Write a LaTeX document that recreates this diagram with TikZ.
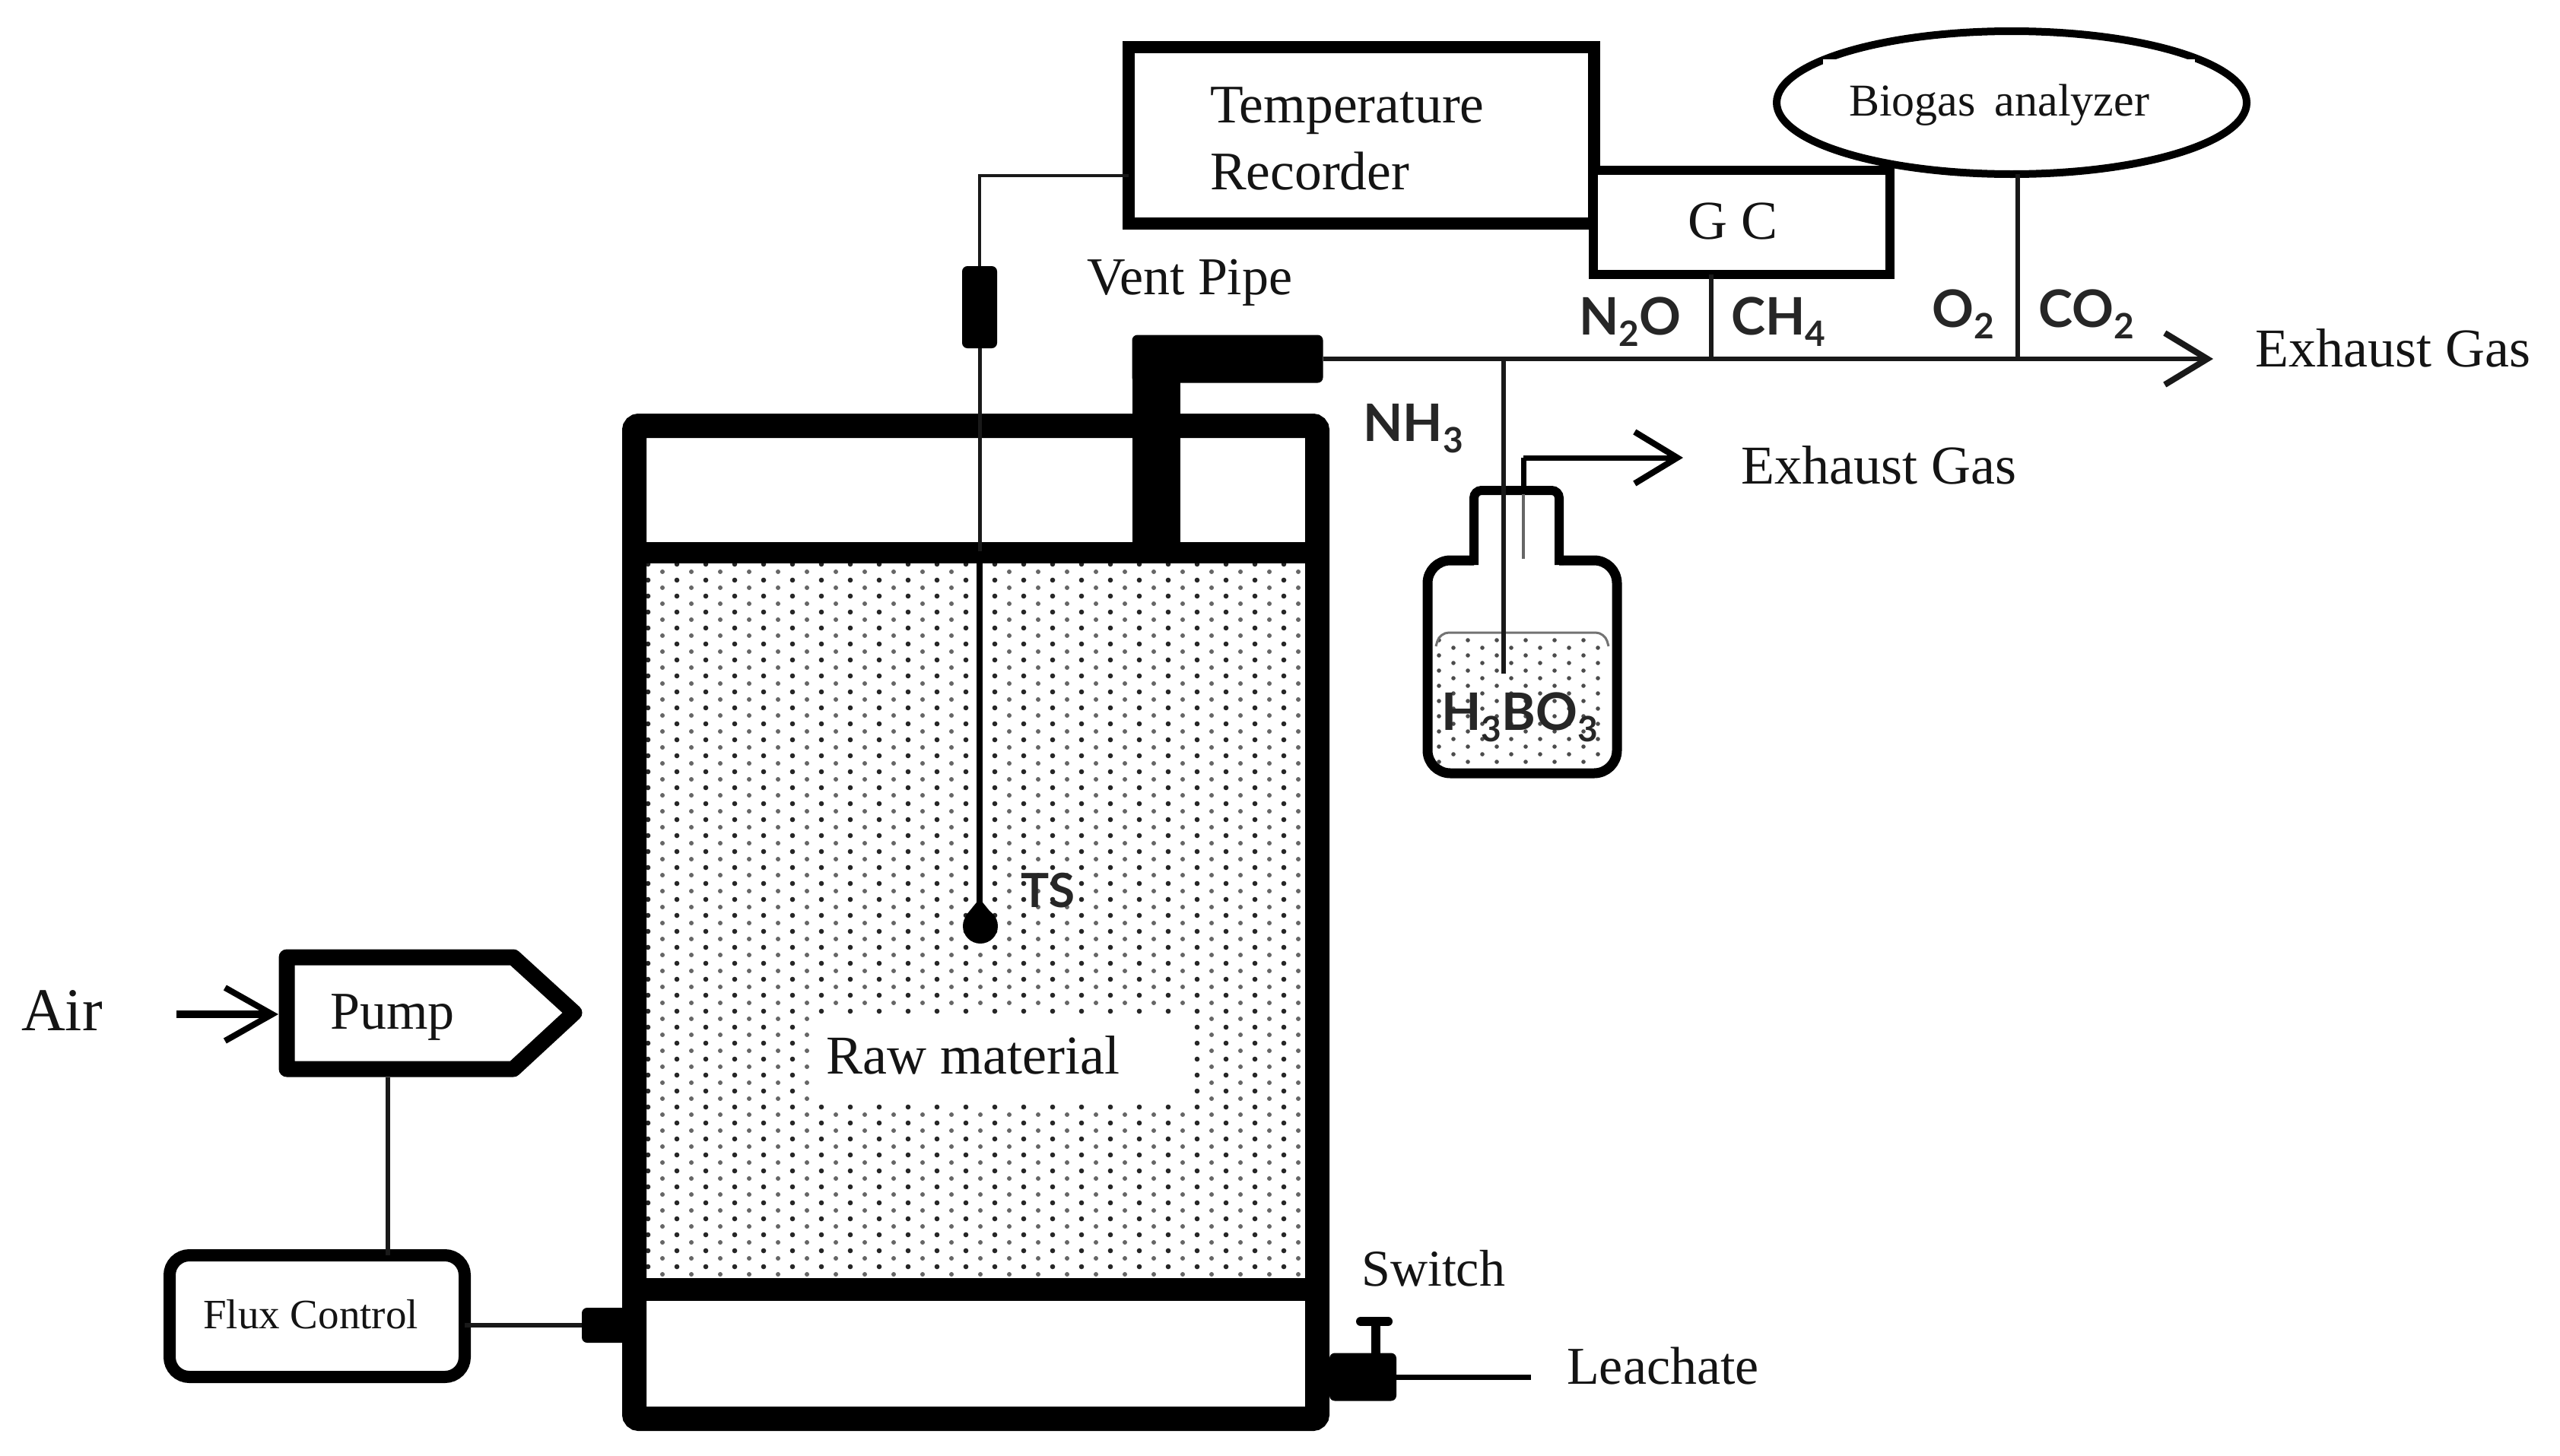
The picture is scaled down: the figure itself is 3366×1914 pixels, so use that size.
\documentclass[tikz,border=0pt]{standalone}
\usepackage{fontspec}
\setmainfont{Liberation Serif}
\newfontfamily\labfont{Lato Bold}[]
\usetikzlibrary{arrows.meta,shapes.geometric}
\newcommand{\subd}[1]{\raisebox{-15pt}{\fontsize{46}{46}\selectfont #1}}
\tikzset{
  x=1pt,y=-1pt,
  serif/.style={anchor=base west,inner sep=0pt,text=black!92,font=\fontsize{#1}{#1}\selectfont},
  sans/.style={anchor=base west,inner sep=0pt,text=black!85,font=\labfont\fontsize{#1}{#1}\selectfont},
  boxpart/.style={draw=black,fill=white,inner sep=0pt,outer sep=0pt},
  blackpart/.style={fill=black,inner sep=0pt,outer sep=0pt,rounded corners=7pt},
  thinline/.style={draw=black!90,line width=6pt},
  gasarrow/.style={-{Straight Barb[length=56pt,width=68pt,line width=8pt]}},
}
\begin{document}
\begin{tikzpicture}
\useasboundingbox (0,0) rectangle (3366,1914);
\fill[white] (0,0) rectangle (3366,1914);

% packed raw material
\begin{scope}
\clip (850,738) rectangle (1718,1690);
\fill[black!85] \foreach \i in {0,2,...,46}{\foreach \j in {0,...,46}{({852+\i*19},{742+\j*21}) circle[radius=3.3]}};
\fill[black!60] \foreach \i in {1,3,...,45}{\foreach \j in {0,...,46}{({852+\i*19},{752+\j*21}) circle[radius=3]}};
\end{scope}
\fill[white] (1065,1335) rectangle (1565,1450);

% reactor
\draw[line width=32pt,rounded corners=6pt] (834,560) rectangle (1732,1866);
\draw[line width=28pt] (834,727) -- (1732,727);
\draw[line width=30pt] (834,1696) -- (1732,1696);

% vent pipe
\node[blackpart,minimum width=251pt,minimum height=63pt] (vent) at (1614,472) {};
\fill (1489,460) rectangle (1552,740);

% temperature sensor
\node[boxpart,line width=16pt,minimum width=612pt,minimum height=232pt] (rec) at (1790,178) {};
\node[blackpart,minimum width=46pt,minimum height=108pt] (holder) at (1288,404) {};
\coordinate (corner) at (1288,231);
\coordinate (lid) at (1288,725);
\node[circle,fill=black,inner sep=0pt,minimum size=46pt] (bulb) at (1289,1218) {};
\draw[draw=black!90,line width=4.5pt] (rec.west |- corner) -- (corner) -- (holder.north);
\draw[draw=black!90,line width=5pt] (holder.south) -- (lid);
\draw[draw=black,line width=8pt] (lid) -- (bulb.north -| lid);
\fill (1270,1204) -- (1288,1182) -- (1306,1204) -- cycle;

% GC and analyzer
\node[boxpart,line width=12pt,minimum width=390pt,minimum height=137pt] (gc) at (2290,292) {};
\node[ellipse,boxpart,line width=10pt,minimum width=618pt,minimum height=188pt] (bio) at (2645,135) {};
\fill[white] (2397,78) rectangle (2886,120);

% gas line
\coordinate (ex1) at (2910,472);
\draw[draw=black!90,line width=6.5pt,gasarrow] (vent.east) -- (ex1);
\coordinate (gcj) at (2250,472);
\coordinate (bioj) at (2653,472);
\draw[thinline] (gc.south -| gcj) -- (gcj);
\draw[thinline] (bio.south -| bioj) -- (bioj);

% bottle
\draw[line width=13pt,line join=round,fill=white,rounded corners=30pt] (1938,737) -- (1877,737) -- (1877,1017) -- (2126,1017) -- (2126,737) -- (2050,737);
\fill[white] (1944,660) rectangle (2044,760);
\draw[line width=12pt,rounded corners=10pt] (1938,743) -- (1938,645) -- (2050,645) -- (2050,743);
\begin{scope}
\clip (1888,835) rectangle (2115,1005);
\fill[black!70] \foreach \i in {0,...,13}{\foreach \j in {0,...,8}{({1892+\i*19},{842+\j*20+mod(\i,2)*10}) circle[radius=2.8]}};
\end{scope}
\draw[draw=black!55,line width=3pt,rounded corners=12pt] (1888,850) -- (1893,832) -- (2110,832) -- (2115,850);
\coordinate (nhj) at (1977,472);
\coordinate (nhe) at (1977,886);
\draw[thinline] (nhj) -- (nhe);
\coordinate (pipe) at (2003,735);
\coordinate (ex2) at (2213,602);
\coordinate (neck) at (2003,650);
\draw[black!60,line width=4pt] (pipe) -- (neck);
\draw[draw=black,line width=7pt,gasarrow] (pipe |- ex2) -- (ex2);
\draw[draw=black,line width=7pt] (neck) -- (pipe |- ex2);

% air, pump, flux control
\draw[line width=21pt,line join=round] (377,1259) -- (675,1259) -- (755,1332) -- (675,1406) -- (377,1406) -- cycle;
\node[inner sep=0pt,outer sep=0pt,minimum width=1pt,minimum height=168pt] (pump) at (510,1333) {};
\coordinate (airs) at (232,1334);
\coordinate (airt) at (366,1334);
\draw[line width=10pt,-{Straight Barb[length=62pt,width=70pt,line width=8pt]}] (airs) -- (airt);
\node[boxpart,line width=16pt,rounded corners=26pt,minimum width=388pt,minimum height=160pt] (flux) at (417,1731) {};
\draw[thinline] (pump.south) -- (flux.north -| pump);
\node[blackpart,minimum width=60pt,minimum height=46pt] (inlet) at (795,1743) {};
\draw[thinline] (flux.east |- inlet) -- (inlet.west);

% leachate valve
\node[blackpart,minimum width=88pt,minimum height=63pt] (valve) at (1792,1811) {};
\coordinate (lea) at (2013,1811);
\draw[draw=black,line width=7pt] (valve.east) -- (lea);
\coordinate (sw) at (1809,1738);
\draw[line width=12pt,line cap=round] (1789,1738) -- (1825,1738);
\draw[line width=12pt] (sw) -- ++(0,45);

% texts
\node[serif=71.5] (t1) at (1591,161) {Temperature};
\node[serif=71.5] (t2) at (1591,249) {Recorder};
\node[serif=60] (t3) at (2431,152) {Biogas\hspace{10pt} analyzer};
\node[serif=72] (t4) at (2219,314) {G C};
\node[serif=70] (t5) at (1429,387) {Vent Pipe};
\node[serif=72] (t6) at (2965,482) {Exhaust Gas};
\node[serif=72] (t7) at (2289,636) {Exhaust Gas};
\node[serif=80] (t8) at (28,1355) {Air};
\node[serif=70] (t9) at (434,1353) {Pump};
\node[serif=55] (t10) at (267,1747) {Flux Control};
\node[serif=72] (t11) at (1086,1412) {Raw material};
\node[serif=68] (t12) at (1790,1691) {Switch};
\node[serif=70] (t13) at (2060,1820) {Leachate};
\node[sans=68] (s1) at (2076,440) {N\subd{2}O};
\node[sans=68] (s2) at (2276,440) {CH\subd{4}};
\node[sans=68] (s3) at (2540,430) {O\subd{2}};
\node[sans=68] (s4) at (2680,430) {CO\subd{2}};
\node[sans=68] (s5) at (1792,580) {NH\subd{3}};
\node[sans=68] (s6) at (1895,960) {H\subd{3}BO\subd{3}};
\node[sans=62] (s7) at (1342,1193) {TS};
\end{tikzpicture}
\end{document}
